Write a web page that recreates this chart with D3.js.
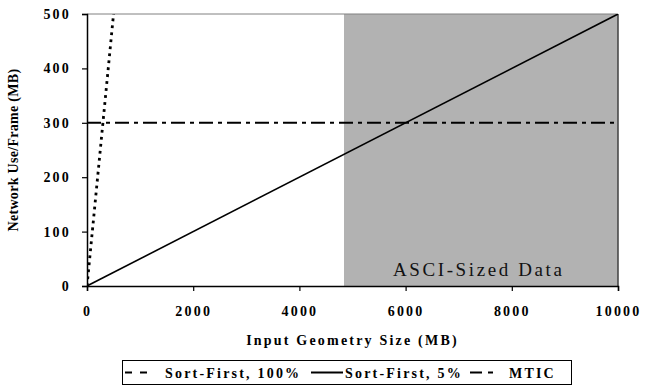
<!DOCTYPE html>
<html>
<head>
<meta charset="utf-8">
<script src="https://cdn.jsdelivr.net/npm/d3@7"></script>
<style>
  body { margin: 0; background: #fff; }
  svg text { font-family: "Liberation Serif", "Times New Roman", serif; }
</style>
</head>
<body>
<svg id="chart" width="652" height="386"></svg>
<script>
// data
var geometrySize = [0, 10000];          // MB
var sortFirst100 = [0, 10000];          // 100% of geometry per frame
var sortFirst5 = [0, 500];              // 5%
var mticLimit = 300;                    // MB per frame
var asciRange = [4840, 10000];
var xTicks = [0, 2000, 4000, 6000, 8000, 10000];
var yTicks = [0, 100, 200, 300, 400, 500];

var svg = d3.select("#chart"),
    margin = {top: 14, right: 34, bottom: 100, left: 87},
    width = 652 - margin.left - margin.right,
    height = 386 - margin.top - margin.bottom;

var x = d3.scaleLinear().domain([0, 10000]).range([0, width]);
var y = d3.scaleLinear().domain([0, 500]).range([height, 0]);

var g = svg.append("g")
    .attr("transform", "translate(" + margin.left + "," + margin.top + ")");

svg.append("clipPath").attr("id", "plotClip")
  .append("rect").attr("width", width).attr("height", height);

// shaded ASCI band
g.append("rect")
    .attr("x", x(asciRange[0]))
    .attr("y", y(500))
    .attr("width", x(asciRange[1]) - x(asciRange[0]))
    .attr("height", y(0) - y(500))
    .attr("fill", "#b2b2b2");

g.append("text")
    .attr("x", x(asciRange[0]) + 49)
    .attr("y", y(0) - 10)
    .style("font-size", "19px")
    .style("letter-spacing", "2.6px")
    .attr("fill", "#111")
    .text("ASCI-Sized Data");

// plot frame top/right
g.append("line").attr("x1", 0).attr("x2", width).attr("y1", 0).attr("y2", 0)
    .attr("stroke", "#808080").attr("stroke-width", 1);
g.append("line").attr("x1", width).attr("x2", width).attr("y1", 0).attr("y2", height)
    .attr("stroke", "#404040").attr("stroke-width", 1.5);

var line = d3.line()
    .x(function(d) { return x(d[0]); })
    .y(function(d) { return y(d[1]); });

var lines = g.append("g").attr("clip-path", "url(#plotClip)");

// MTIC
lines.append("path")
    .datum(geometrySize.map(function(v) { return [v, mticLimit]; }))
    .attr("d", line)
    .attr("fill", "none").attr("stroke", "#000").attr("stroke-width", 2)
    .attr("stroke-dasharray", "14,5,4,5");

// Sort-First 5%
lines.append("path")
    .datum(d3.zip(geometrySize, sortFirst5))
    .attr("d", line)
    .attr("fill", "none").attr("stroke", "#000").attr("stroke-width", 1.6);

// Sort-First 100%
lines.append("path")
    .datum(d3.zip(geometrySize, sortFirst100))
    .attr("d", line)
    .attr("fill", "none").attr("stroke", "#000").attr("stroke-width", 2.8)
    .attr("stroke-dasharray", "2.8,4.2");

// axes
var xAxis = g.append("g")
    .attr("transform", "translate(0," + height + ")")
    .call(d3.axisBottom(x).tickValues(xTicks).tickSize(5).tickPadding(15).tickFormat(d3.format("d")));
var yAxis = g.append("g")
    .call(d3.axisLeft(y).tickValues(yTicks).tickSize(5).tickPadding(11).tickFormat(d3.format("d")));

[xAxis, yAxis].forEach(function(a) {
  a.attr("font-family", null).attr("font-size", null);
  a.select(".domain").attr("stroke", "#000").attr("stroke-width", 1.5);
  a.selectAll(".tick line").attr("stroke", "#000").attr("stroke-width", 1.2);
  a.selectAll("text")
    .style("font-size", "14px").style("font-weight", "bold")
    .style("letter-spacing", "2.2px").attr("fill", "#000");
});

// axis titles
svg.append("text")
    .attr("x", margin.left + width / 2)
    .attr("y", 345)
    .attr("text-anchor", "middle")
    .style("font-size", "14px").style("font-weight", "bold").style("letter-spacing", "2.2px")
    .text("Input Geometry Size (MB)");

svg.append("text")
    .attr("transform", "translate(18," + (margin.top + height / 2) + ") rotate(-90)")
    .attr("text-anchor", "middle")
    .style("font-size", "14px").style("font-weight", "bold").style("letter-spacing", "0.3px")
    .text("Network Use/Frame (MB)");

// legend
var legendNames = ["Sort-First, 100%", "Sort-First, 5%", "MTIC"];
var legendDash = ["7,8", null, "12,6,5,30"];
var legendX = [125, 311, 470];
var legendW = [27, 32, 32];
var legendGap = [13, 2, 7];

var legend = svg.append("g");
legend.append("rect")
    .attr("x", 122.5).attr("y", 360.5).attr("width", 449).attr("height", 24)
    .attr("fill", "#fff").attr("stroke", "#000").attr("stroke-width", 1);

legendNames.forEach(function(name, i) {
  legend.append("line")
      .attr("x1", legendX[i]).attr("x2", legendX[i] + legendW[i])
      .attr("y1", 372.5).attr("y2", 372.5)
      .attr("stroke", "#000").attr("stroke-width", 2)
      .attr("stroke-dasharray", legendDash[i]);
  legend.append("text")
      .attr("x", legendX[i] + legendW[i] + legendGap[i])
      .attr("y", 377.5)
      .style("font-size", "14px").style("font-weight", "bold").style("letter-spacing", "2.2px")
      .text(name);
});
</script>
</body>
</html>
